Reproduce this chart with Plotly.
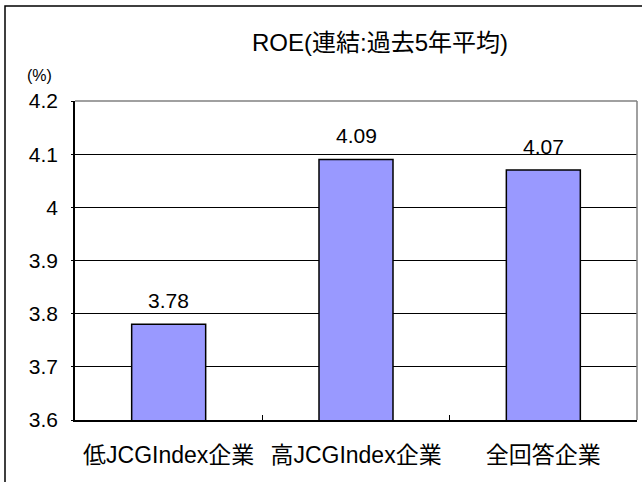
import plotly.graph_objects as go

# ROE (consolidated, 5-year average)
categories = ['低JCGIndex企業', '高JCGIndex企業', '全回答企業']
roe = [3.78, 4.09, 4.07]
roe_labels = ['3.78', '4.09', '4.07']

FONT = "Liberation Sans, Arial, Noto Sans CJK JP, sans-serif"

fig = go.Figure()

fig.add_trace(go.Bar(
    x=categories,
    y=roe,
    width=0.395,
    marker=dict(color='#9999FF', line=dict(color='black', width=1.5)),
    showlegend=False,
    hoverinfo='x+y',
))

# value labels above the bars
for cat, val, lab in zip(categories, roe, roe_labels):
    fig.add_annotation(x=cat, y=val, text=lab, showarrow=False,
                       yanchor='bottom', yshift=10,
                       font=dict(size=21, color='black'))

# grey top/right border of the plot area, outer chart frame
fig.add_shape(type='line', xref='paper', yref='paper', x0=0, y0=1, x1=1, y1=1,
              line=dict(color='#808080', width=1.5), layer='above')
fig.add_shape(type='line', xref='paper', yref='paper', x0=1, y0=0, x1=1, y1=1,
              line=dict(color='#808080', width=1.5), layer='above')
fig.add_shape(type='rect', xref='paper', yref='paper',
              x0=(5 - 75) / 562, y0=(420 - 500) / 319,
              x1=(660 - 75) / 562, y1=(420 - 6) / 319,
              line=dict(color='black', width=1.5))

fig.add_annotation(text='ROE(連結:過去5年平均)', xref='paper', yref='paper',
                   x=(380 - 75) / 562, y=(420 - 43) / 319, showarrow=False,
                   xanchor='center', yanchor='middle',
                   font=dict(size=24, color='black'))
fig.add_annotation(text='(%)', xref='paper', yref='paper',
                   x=(39 - 75) / 562, y=(420 - 75) / 319, showarrow=False,
                   xanchor='center', yanchor='middle',
                   font=dict(size=16, color='black'))

fig.update_layout(
    width=642, height=482,
    margin=dict(l=75, r=5, t=101, b=62),
    paper_bgcolor='white',
    plot_bgcolor='white',
    font=dict(family=FONT, color='black'),
)
fig.update_xaxes(
    showline=True, linecolor='black', linewidth=1.5,
    ticks='inside', tickson='boundaries', ticklen=5, tickcolor='black',
    tickfont=dict(size=23),
    ticklabelstandoff=14,
    showgrid=False,
)
fig.update_yaxes(
    range=[3.6, 4.2], dtick=0.1,
    showline=True, linecolor='black', linewidth=1.5,
    showgrid=True, gridcolor='black', gridwidth=1,
    ticks='outside', ticklen=2, tickcolor='black',
    tickfont=dict(size=21),
    ticklabelstandoff=9,
)

fig.write_html("out.html", config={'displayModeBar': False},
               post_script="document.body.style.margin='0px';")
